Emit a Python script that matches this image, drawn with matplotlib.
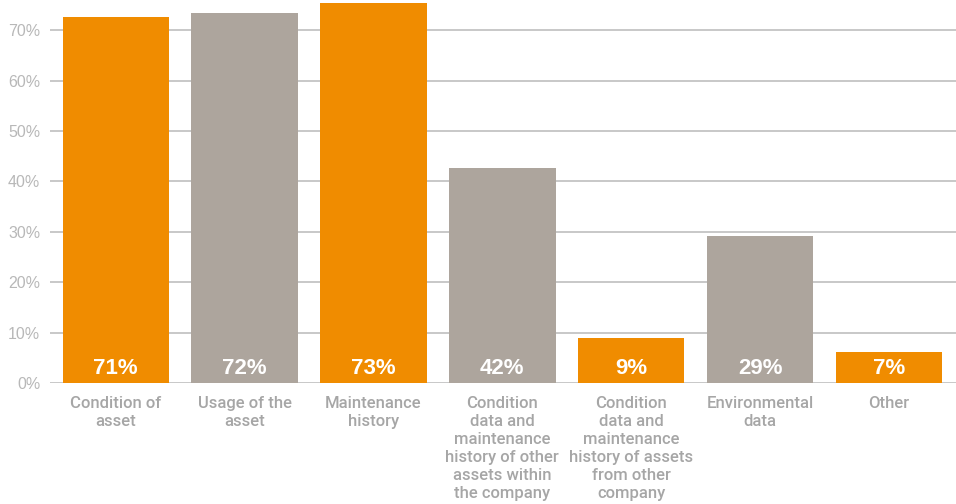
import matplotlib
matplotlib.use("Agg")
import matplotlib.pyplot as plt

categories = [
    "Condition of\nasset",
    "Usage of the\nasset",
    "Maintenance\nhistory",
    "Condition\ndata and\nmaintenance\nhistory of other\nassets within\nthe company",
    "Condition\ndata and\nmaintenance\nhistory of assets\nfrom other\ncompany",
    "Environmental\ndata",
    "Other",
]
value_labels = ["71%", "72%", "73%", "42%", "9%", "29%", "7%"]
bar_heights = [72.6, 73.4, 75.5, 42.7, 8.9, 29.2, 6.2]
y_ticks = [0, 10, 20, 30, 40, 50, 60, 70]
y_tick_labels = ["0%", "10%", "20%", "30%", "40%", "50%", "60%", "70%"]

ORANGE = "#F08C00"
GREY = "#ADA59D"
colors = [ORANGE, GREY, ORANGE, GREY, ORANGE, GREY, ORANGE]

plt.rcParams["font.family"] = ["Liberation Sans", "DejaVu Sans"]

fig = plt.figure(figsize=(9.56, 5.04), dpi=100)
ax = fig.add_axes([50 / 956, (504 - 383) / 504, 1 - 50 / 956, 383 / 504])

x = list(range(len(categories)))
ax.set_axisbelow(True)
ax.grid(axis="y", color="#c8c8c8", linewidth=1.4)
ax.bar(x, bar_heights, width=0.825, color=colors, zorder=2)

for xi, lab in zip(x, value_labels):
    ax.text(xi, 2.9, lab, ha="center", va="center", color="white",
            fontsize=16, fontweight="bold", zorder=3)

ax.set_xlim(-0.51, 6.52)
ax.set_ylim(0, 76)
ax.set_yticks(y_ticks)
ax.set_yticklabels(y_tick_labels, color="#b8b8b8", fontsize=11.5)
ax.set_xticks(x)
ax.set_xticklabels(categories, color="#a6a6a6", fontsize=12, linespacing=1.24,
                   family=["Roboto", "Liberation Sans"], fontweight="medium")
ax.tick_params(axis="x", length=0, pad=9.5)
ax.tick_params(axis="y", length=0, pad=7)
for s in ax.spines.values():
    s.set_visible(False)

fig.savefig("out.png", dpi=100)
